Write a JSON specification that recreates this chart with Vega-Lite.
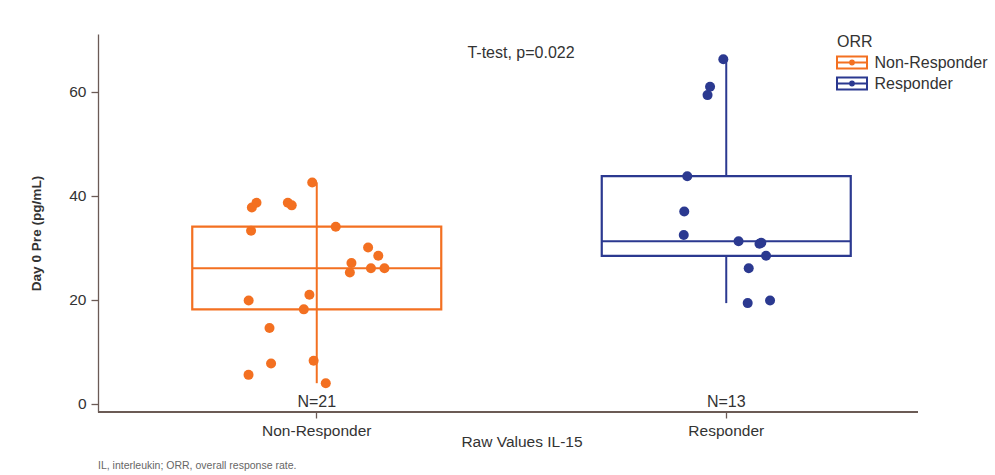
{
  "$schema": "https://vega.github.io/schema/vega-lite/v6.json",
  "width": 820,
  "height": 378,
  "autosize": {"type": "none"},
  "padding": {"left": 98, "top": 34, "right": 77, "bottom": 63},
  "background": "white",
  "config": {
    "font": "Liberation Sans",
    "view": {"stroke": null},
    "axis": {
      "grid": false,
      "domainColor": "#6b5b56",
      "tickColor": "#6b5b56",
      "domainWidth": 1.3,
      "tickWidth": 1.3,
      "labelColor": "#333333",
      "titleColor": "#333333",
      "labelFont": "Liberation Sans",
      "titleFont": "Liberation Sans"
    }
  },
  "title": {
    "text": "IL, interleukin; ORR, overall response rate.",
    "orient": "bottom",
    "anchor": "start",
    "frame": "group",
    "fontSize": 10.5,
    "fontWeight": "normal",
    "font": "Liberation Sans",
    "color": "#666666",
    "offset": 11
  },
  "data": {
    "values": [
      {"group": "Non-Responder", "value": 42.6},
      {"group": "Non-Responder", "value": 38.7},
      {"group": "Non-Responder", "value": 38.2},
      {"group": "Non-Responder", "value": 38.7},
      {"group": "Non-Responder", "value": 37.8},
      {"group": "Non-Responder", "value": 33.3},
      {"group": "Non-Responder", "value": 34.1},
      {"group": "Non-Responder", "value": 30.1},
      {"group": "Non-Responder", "value": 28.5},
      {"group": "Non-Responder", "value": 27.1},
      {"group": "Non-Responder", "value": 26.1},
      {"group": "Non-Responder", "value": 25.3},
      {"group": "Non-Responder", "value": 26.1},
      {"group": "Non-Responder", "value": 21.0},
      {"group": "Non-Responder", "value": 19.9},
      {"group": "Non-Responder", "value": 18.2},
      {"group": "Non-Responder", "value": 14.6},
      {"group": "Non-Responder", "value": 7.8},
      {"group": "Non-Responder", "value": 8.3},
      {"group": "Non-Responder", "value": 5.6},
      {"group": "Non-Responder", "value": 4.0},
      {"group": "Responder", "value": 66.3},
      {"group": "Responder", "value": 59.4},
      {"group": "Responder", "value": 61.0},
      {"group": "Responder", "value": 43.8},
      {"group": "Responder", "value": 37.0},
      {"group": "Responder", "value": 32.5},
      {"group": "Responder", "value": 31.3},
      {"group": "Responder", "value": 30.8},
      {"group": "Responder", "value": 28.5},
      {"group": "Responder", "value": 26.1},
      {"group": "Responder", "value": 19.9},
      {"group": "Responder", "value": 19.4},
      {"group": "Responder", "value": 31.0}
    ]
  },
  "layer": [
    {
      "mark": {"type": "rule", "color": "#6b5b56", "strokeWidth": 1.3},
      "encoding": {
        "y": {
          "datum": -1.54,
          "type": "quantitative",
          "title": "Day 0 Pre (pg/mL)",
          "scale": {"domain": [-1.54, 71.15], "nice": false, "zero": false},
          "axis": {
            "values": [0, 20, 40, 60],
            "tickSize": 7,
            "labelPadding": 5,
            "labelFontSize": 15.5,
            "titleFontSize": 13.6,
            "titleFontWeight": "bold",
            "titleX": -62,
            "titleY": 199,
            "titleBaseline": "middle",
            "titleAlign": "center"
          }
        }
      }
    },
    {
      "transform": [
        {
          "aggregate": [
            {"op": "min", "field": "value", "as": "lo"},
            {"op": "q1", "field": "value", "as": "q1"},
            {"op": "median", "field": "value", "as": "med"},
            {"op": "q3", "field": "value", "as": "q3"},
            {"op": "max", "field": "value", "as": "hi"}
          ],
          "groupby": ["group"]
        }
      ],
      "encoding": {
        "x": {
          "field": "group",
          "type": "nominal",
          "sort": ["Non-Responder", "Responder"],
          "scale": {"domain": ["Non-Responder", "Responder"], "range": [14, 833], "paddingInner": 0, "paddingOuter": 0},
          "axis": {
            "title": "Raw Values IL-15",
            "domain": false,
            "labelAngle": 0,
            "tickSize": 6,
            "labelFontSize": 15.5,
            "labelBaseline": "alphabetic",
            "labelPadding": 17.5,
            "titleFontSize": 15.5,
            "titleFontWeight": "normal",
            "titleBaseline": "alphabetic",
            "titleY": 34.5
          }
        },
        "stroke": {
          "field": "group",
          "type": "nominal",
          "scale": {"domain": ["Non-Responder", "Responder"], "range": ["#F37021", "#2B3990"]},
          "legend": {
            "title": "ORR",
            "orient": "none",
            "legendX": 739,
            "legendY": 0,
            "titleFontSize": 16,
            "titleFontWeight": "normal",
            "titleColor": "#333333",
            "titlePadding": 2,
            "labelFontSize": 16,
            "labelColor": "#333333",
            "symbolType": "M-1.58,-0.63H1.58V0.63H-1.58Z M-1.58,0H1.58 M0.2,0A0.2,0.2,0,1,1,-0.2,0A0.2,0.2,0,1,1,0.2,0",
            "symbolSize": 361,
            "symbolStrokeWidth": 2,
            "symbolFillColor": "transparent",
            "symbolOffset": 4.5,
            "labelOffset": 12,
            "rowPadding": 0,
            "encode": {
              "symbols": {
                "update": {
                  "fill": {"value": "transparent"},
                  "stroke": {"scale": "stroke", "field": "value"}
                }
              }
            }
          }
        }
      },
      "layer": [
        {
          "mark": {"type": "rule", "strokeWidth": 2},
          "encoding": {
            "y": {"field": "lo", "type": "quantitative", "title": "Day 0 Pre (pg/mL)"},
            "y2": {"field": "q1"}
          }
        },
        {
          "mark": {"type": "rule", "strokeWidth": 2},
          "encoding": {
            "y": {"field": "q3", "type": "quantitative", "title": "Day 0 Pre (pg/mL)"},
            "y2": {"field": "hi"}
          }
        },
        {
          "transform": [{"filter": "datum.group === 'Non-Responder'"}],
          "mark": {"type": "rule", "strokeWidth": 2},
          "encoding": {
            "y": {"field": "q1", "type": "quantitative", "title": "Day 0 Pre (pg/mL)"},
            "y2": {"field": "q3"}
          }
        },
        {
          "mark": {"type": "bar", "filled": false, "size": 249, "strokeWidth": 2.2},
          "encoding": {
            "y": {"field": "q1", "type": "quantitative", "title": "Day 0 Pre (pg/mL)"},
            "y2": {"field": "q3"}
          }
        },
        {
          "mark": {"type": "bar", "filled": false, "size": 249, "strokeWidth": 2.2},
          "encoding": {
            "y": {"field": "med", "type": "quantitative", "title": "Day 0 Pre (pg/mL)"},
            "y2": {"field": "med"}
          }
        }
      ]
    },
    {
      "transform": [
        {"window": [{"op": "row_number", "as": "idx"}], "groupby": ["group"]},
        {"calculate": "(sin(datum.idx * 12.9898 + 3.7) * 43758.5453) % 1", "as": "j"},
        {"calculate": "datum.j * (datum.group === 'Responder' ? 0.22 : 0.34)", "as": "jx"}
      ],
      "encoding": {
        "x": {"field": "group", "type": "nominal"},
        "xOffset": {"field": "jx", "type": "quantitative", "scale": {"domain": [-1, 1]}},
        "y": {"field": "value", "type": "quantitative", "title": "Day 0 Pre (pg/mL)"}
      },
      "layer": [
        {
          "transform": [{"filter": "datum.group === 'Non-Responder'"}],
          "mark": {"type": "circle", "size": 100, "opacity": 1, "color": "#F37021"}
        },
        {
          "transform": [{"filter": "datum.group === 'Responder'"}],
          "mark": {"type": "circle", "size": 100, "opacity": 1, "color": "#2B3990"}
        }
      ]
    },
    {
      "transform": [
        {"aggregate": [{"op": "count", "as": "n"}], "groupby": ["group"]},
        {"calculate": "'N=' + datum.n", "as": "nlabel"}
      ],
      "mark": {"type": "text", "fontSize": 16, "baseline": "alphabetic", "align": "center", "color": "#333333"},
      "encoding": {
        "x": {"field": "group", "type": "nominal"},
        "y": {"datum": -0.5, "type": "quantitative"},
        "text": {"field": "nlabel"}
      }
    },
    {
      "data": {"values": [{"label": "T-test, p=0.022"}]},
      "mark": {"type": "text", "fontSize": 16, "baseline": "alphabetic", "align": "center", "color": "#333333", "dx": 13},
      "encoding": {
        "y": {"datum": 66.6, "type": "quantitative"},
        "text": {"field": "label"}
      }
    }
  ],
  "resolve": {"scale": {"y": "shared", "x": "shared"}}
}
